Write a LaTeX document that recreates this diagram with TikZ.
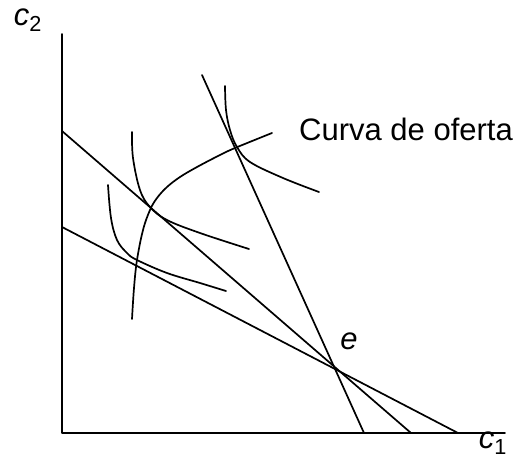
\documentclass[tikz,border=0pt]{standalone}
\usepackage{fontspec}
\setmainfont{Liberation Sans}
\begin{document}
\begin{tikzpicture}[x=1pt,y=-1pt,
  curve/.style={line width=1.7pt,line cap=round,line join=round},
  lbl/.style={inner sep=0pt,font=\fontsize{31}{34}\selectfont}]
\useasboundingbox (0,0) rectangle (513,461);
% axes
\coordinate (O) at (62,433);
\coordinate (ytop) at (62,34);
\coordinate (xend) at (505,433);
\draw[curve] (ytop) -- (O) -- (xend);
% budget lines
\coordinate (e) at (336,369);
\coordinate (l1a) at (202,75);   \coordinate (l1b) at (364,433);
\coordinate (l2a) at (62,131);   \coordinate (l2b) at (411,433);
\coordinate (l3a) at (62,227);   \coordinate (l3b) at (458,433);
\draw[curve] (l1a) -- (l1b);
\draw[curve] (l2a) -- (l2b);
\draw[curve] (l3a) -- (l3b);
% offer curve
\draw[curve] plot[smooth,tension=0.6] coordinates {(132,319) (134,288) (137,260) (143,230) (150,210) (157,198) (167,187) (180,177) (197,167) (220,155) (235,148) (272,133)};
% indifference curves
\draw[curve] plot[smooth,tension=0.6] coordinates {(108,185) (111,218) (117,240) (127,253) (137,260) (167,273) (200,283) (226,291)};
\draw[curve] plot[smooth,tension=0.6] coordinates {(132,132) (133,158) (140,190) (150,207) (167,220) (200,233) (249,249)};
\draw[curve] plot[smooth,tension=0.6] coordinates {(225,86) (226,110) (230,130) (237,147) (250,162) (283,178) (319,192)};
% labels
\node[lbl] (c2) at (28,20) {\textit{c}\textsubscript{2}};
\node[lbl] (c1) at (493,443) {\textit{c}\textsubscript{1}};
\node[lbl] (el) at (349,341) {\textit{e}};
\node[lbl,anchor=west] (oferta) at (299,129) {Curva de oferta};
\end{tikzpicture}
\end{document}
